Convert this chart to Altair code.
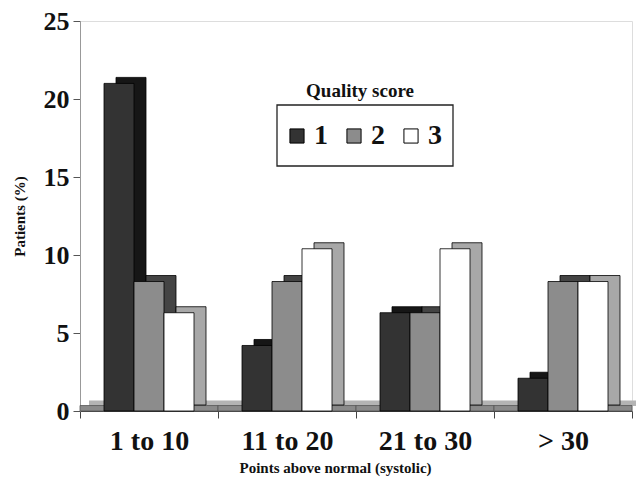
import altair as alt
import pandas as pd

categories = ["1 to 10", "11 to 20", "21 to 30", "> 30"]
scores = ["1", "2", "3"]
score1 = [21.0, 4.2, 6.3, 2.1]
score2 = [8.3, 8.3, 6.3, 8.3]
score3 = [6.3, 10.4, 10.4, 8.3]
floor_height = [0.35, 0.35, 0.35, 0.35]

front_colors = ["#333333", "#8c8c8c", "#ffffff"]
back_colors = ["#161616", "#444444", "#a8a8a8"]

rows = []
for i, c in enumerate(categories):
    for s, vals in zip(scores, [score1, score2, score3]):
        rows.append({"group": c, "score": s, "value": vals[i]})
df = pd.DataFrame(rows)
floor_df = pd.DataFrame({"group": categories, "value": floor_height})
frame_df = pd.DataFrame({"legend": ["Quality score"]})

FONT = "Liberation Serif"

x_enc = alt.X(
    "group:N", sort=categories,
    scale=alt.Scale(paddingInner=0, paddingOuter=0),
    axis=alt.Axis(title="Points above normal (systolic)", labelAngle=0,
                  labelFont=FONT, labelFontSize=28, labelFontWeight="bold",
                  labelColor="#111", labelPadding=9, tickBand="extent",
                  tickSize=7, tickColor="#444", domainColor="#444",
                  titleFont=FONT, titleFontSize=15, titleFontWeight="bold",
                  titleColor="#111", titlePadding=5, titleX=255),
)
y_enc = alt.Y(
    "value:Q",
    scale=alt.Scale(domain=[0, 25], nice=False),
    axis=alt.Axis(title="Patients (%)", values=[0, 5, 10, 15, 20, 25],
                  grid=False, labelFont=FONT, labelFontSize=26,
                  labelFontWeight="bold", labelColor="#111", labelPadding=4,
                  tickSize=7, tickColor="#555", domainColor="#999",
                  titleFont=FONT, titleFontSize=15, titleFontWeight="bold",
                  titleColor="#111", titlePadding=16),
)
xoff_front = alt.XOffset("score:N", sort=scores,
                         scale=alt.Scale(paddingInner=0, paddingOuter=0.8,
                                         range=[0, 138]))
xoff_back = alt.XOffset("score:N", sort=scores,
                        scale=alt.Scale(paddingInner=0, paddingOuter=0.8,
                                        range=[12, 150]))

floor_back = alt.Chart(floor_df).mark_bar(
    width={"band": 1}, color="#b4b4b4", xOffset=9, yOffset=-5
).encode(x=x_enc, y=y_enc)
floor_front = alt.Chart(floor_df).mark_bar(
    width={"band": 1}, color="#8a8a8a", stroke="#555555", strokeWidth=0.8
).encode(x=x_enc, y=y_enc)

back = alt.Chart(df).mark_bar(
    yOffset=-6, stroke="#000", strokeWidth=0.8
).encode(
    x=x_enc, xOffset=xoff_back, y=y_enc,
    fill=alt.Fill("score:N", scale=alt.Scale(domain=scores, range=back_colors),
                  legend=None),
)
front = alt.Chart(df).mark_bar(stroke="#000", strokeWidth=0.8).encode(
    x=x_enc, xOffset=xoff_front, y=y_enc,
    color=alt.Color(
        "score:N", scale=alt.Scale(domain=scores, range=front_colors),
        legend=alt.Legend(
            title=None, orient="none", legendX=203, legendY=101,
            direction="horizontal", symbolType="square", symbolSize=200,
            symbolStrokeColor="#000", symbolStrokeWidth=1,
            labelFont=FONT, labelFontSize=28, labelFontWeight="bold",
            labelColor="#111", padding=0,
            columnPadding=12, labelOffset=3,
        ),
    ),
)
legend_frame = alt.Chart(frame_df).mark_rect(
    fill=None, stroke="#222", strokeWidth=1.3
).encode(x=alt.value(197), x2=alt.value(373), y=alt.value(84), y2=alt.value(145))
legend_title = alt.Chart(frame_df).mark_text(
    font=FONT, fontSize=19, fontWeight="bold", color="#111"
).encode(text="legend:N", x=alt.value(280), y=alt.value(70))

chart = alt.layer(floor_back, floor_front, back, front, legend_frame,
                  legend_title).resolve_scale(
    fill="independent", color="independent", xOffset="independent"
).properties(
    width=552, height=390, autosize="none",
    padding={"left": 72, "top": 13, "right": 4, "bottom": 69},
).configure_view(stroke=None).configure(background="white")

chart.save("out.html", embed_options={"renderer": "svg", "actions": False})
